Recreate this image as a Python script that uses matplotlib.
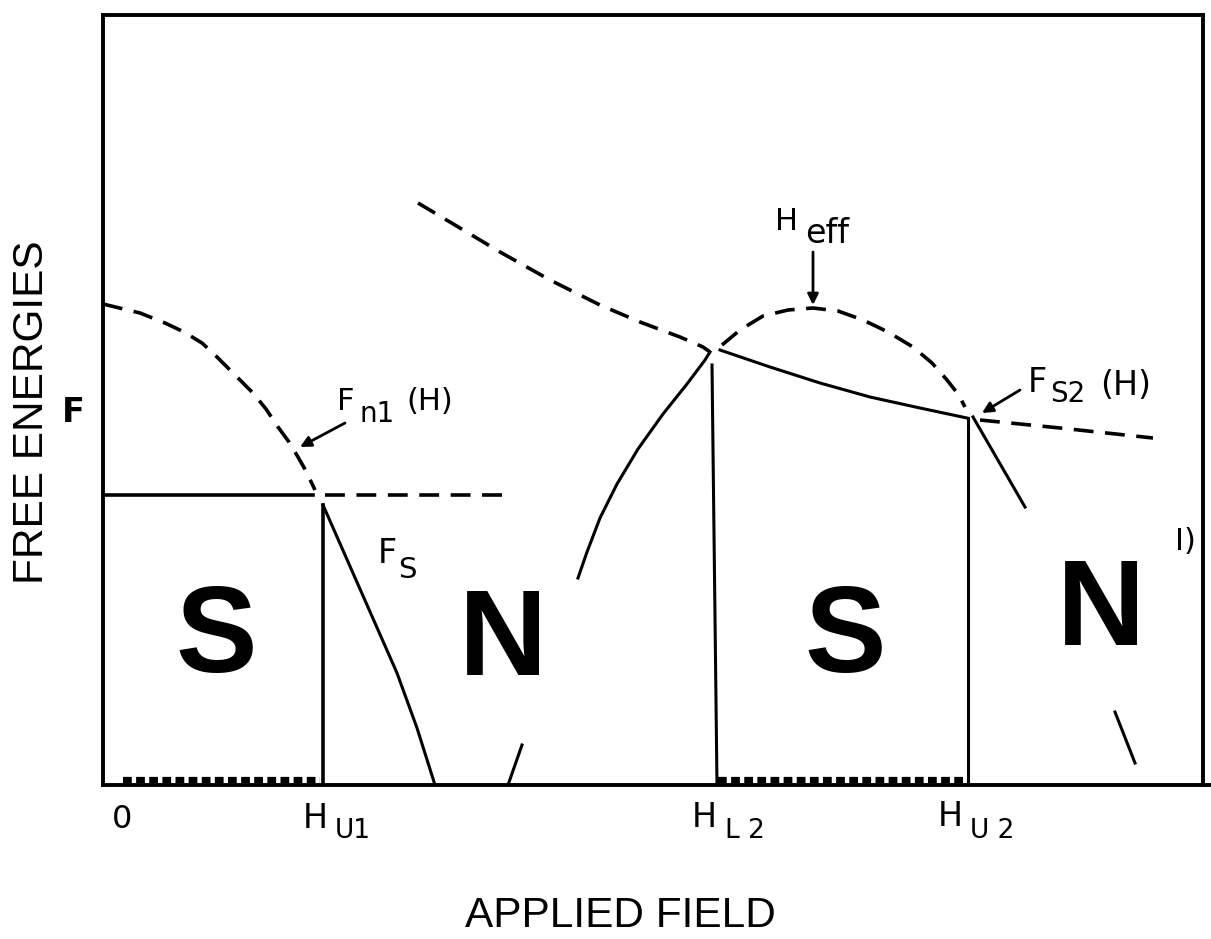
import matplotlib.pyplot as plt

# field H and free energy F, arbitrary units (0 at the origin of the sketch)
fn1_h = [-0.17, 0.20, 0.45, 0.64, 0.82, 0.95, 1.08, 1.20, 1.33, 1.46, 1.58, 1.69, 1.78, 1.86, 1.95]
fn1_f = [4.81, 4.72, 4.62, 4.53, 4.42, 4.30, 4.17, 4.05, 3.92, 3.76, 3.58, 3.43, 3.28, 3.14, 2.95]

s1_top_h = [-0.17, 1.93]
s1_top_f = [2.90, 2.90]
n1_dash_h = [2.05, 3.85]
n1_dash_f = [2.90, 2.90]

hu1 = 2.03
hu1_top = 2.80
fs_h = [2.03, 2.77, 2.97, 3.15]
fs_f = [2.80, 1.12, 0.57, 0.0]
stub1_h = [3.88, 4.02]
stub1_f = [0.0, 0.40]

fn2_dash_h = [2.98, 3.40, 3.80, 4.30, 4.80, 5.20, 5.60, 5.83, 5.90]
fn2_dash_f = [5.82, 5.57, 5.33, 5.05, 4.80, 4.63, 4.48, 4.38, 4.33]
fn2_solid_h = [4.58, 4.67, 4.80, 4.97, 5.18, 5.43, 5.67, 5.85, 5.90]
fn2_solid_f = [2.07, 2.33, 2.67, 3.01, 3.36, 3.71, 4.01, 4.25, 4.33]

hl2_h = [5.92, 5.97]
hl2_f = [4.20, 0.0]

heff_h = [6.02, 6.20, 6.43, 6.68, 6.93, 7.18, 7.43, 7.68, 7.93, 8.12, 8.27, 8.38, 8.45]
heff_f = [4.40, 4.55, 4.69, 4.75, 4.77, 4.74, 4.65, 4.53, 4.38, 4.22, 4.05, 3.91, 3.78]

fs2_h = [6.00, 6.50, 7.00, 7.50, 8.00, 8.47]
fs2_f = [4.35, 4.18, 4.02, 3.88, 3.77, 3.67]

hu2 = 8.48
hu2_top = 3.67
right_dash_h = [8.60, 9.40, 10.33]
right_dash_f = [3.65, 3.57, 3.47]
right_solid_h = [8.53, 9.05]
right_solid_f = [3.68, 2.78]
stub2_h = [9.95, 10.15]
stub2_f = [0.73, 0.22]

hatch1_h = [0.03, 2.0]
hatch2_h = [5.98, 8.48]

phase_labels = ['S', 'N', 'S', 'N']
phase_h = [0.96, 3.83, 7.25, 9.81]
phase_f = [1.13, 1.10, 1.13, 1.40]

fig = plt.figure(figsize=(12.11, 9.39), dpi=100)
ax = fig.add_axes([103 / 1211, 154 / 939, 1100 / 1211, 770 / 939])
ax.set_xlim(-0.17, 10.83)
ax.set_ylim(0, 7.70)
ax.set_xticks([])
ax.set_yticks([])
for sp in ax.spines.values():
    sp.set_linewidth(2.8)
    sp.set_color('black')

k = 'black'
dash = dict(color=k, lw=2.6, linestyle=(0, (5.5, 3.2)), solid_joinstyle='round')
solid = dict(color=k, lw=2.2, solid_joinstyle='round')

# dashed curves
ax.plot(fn1_h, fn1_f, **dash)
ax.plot(n1_dash_h, n1_dash_f, **dash)
ax.plot(fn2_dash_h, fn2_dash_f, **dash)
ax.plot(heff_h, heff_f, **dash)
ax.plot(right_dash_h, right_dash_f, **dash)

# solid curves
ax.plot(s1_top_h, s1_top_f, color=k, lw=2.6)
ax.plot([hu1, hu1], [0, hu1_top], color=k, lw=2.6)
ax.plot(fs_h, fs_f, **solid)
ax.plot(stub1_h, stub1_f, **solid)
ax.plot(fn2_solid_h, fn2_solid_f, **solid)
ax.plot(hl2_h, hl2_f, **solid)
ax.plot(fs2_h, fs2_f, **solid)
ax.plot([hu2, hu2], [0, hu2_top], **solid)
ax.plot(right_solid_h, right_solid_f, **solid)
ax.plot(stub2_h, stub2_f, **solid)

# bottom line runs past the frame, hatched bands on the S intervals
ax.plot([10.83, 10.95], [0, 0], color=k, lw=2.8, clip_on=False)
for hh in [hatch1_h, hatch2_h]:
    ax.plot(hh, [0.05, 0.05], color=k, lw=4.5, linestyle=(0, (1.4, 0.7)), clip_on=False)

# S / N regions
for lab, x, y in zip(phase_labels, phase_h, phase_f):
    ax.text(x, y, lab, fontsize=88, fontweight='bold', family='Liberation Sans',
            ha='center', va='baseline')

fnt = 'DejaVu Sans'
def put(x, y, s, size):
    ax.text(x, y, s, fontsize=size, family=fnt, ha='left', va='baseline', clip_on=False)

# axis tick-like labels
ax.text(0.02, -0.43, '0', fontsize=23, family=fnt, ha='center', va='baseline')
put(1.83, -0.43, 'H', 24)
put(2.15, -0.53, 'U1', 19)
put(5.72, -0.42, 'H', 24)
put(6.05, -0.53, 'L 2', 19)
put(8.18, -0.41, 'H', 24)
put(8.50, -0.53, 'U 2', 19)

# curve labels
put(2.17, 3.75, 'F', 22)
put(2.40, 3.63, 'n1', 20)
put(2.86, 3.75, '(H)', 22)
put(2.58, 2.22, 'F', 24)
put(2.78, 2.07, 'S', 21)
put(6.55, 5.55, 'H', 22)
put(6.85, 5.42, 'eff', 24)
put(9.08, 3.93, 'F', 24)
put(9.30, 3.83, 'S2', 20)
put(9.80, 3.90, '(H)', 24)
put(10.55, 2.35, 'I)', 22)

arr = dict(arrowstyle='-|>', color=k, lw=2, mutation_scale=16, shrinkA=0, shrinkB=0)
ax.annotate('', xy=(1.80, 3.38), xytext=(2.25, 3.62), arrowprops=arr)
ax.annotate('', xy=(6.93, 4.80), xytext=(6.93, 5.33), arrowprops=arr)
ax.annotate('', xy=(8.62, 3.72), xytext=(9.00, 3.95), arrowprops=arr)

# axis titles
ax.text(5.00, -1.42, 'APPLIED FIELD', fontsize=30.5, family='Liberation Sans',
        ha='center', va='baseline', clip_on=False)
ax.text(-0.88, 3.73, 'FREE ENERGIES', fontsize=30.5, family='Liberation Sans',
        rotation=90, ha='center', va='center', clip_on=False)
ax.text(-0.47, 3.73, 'F', fontsize=24, family=fnt, fontweight='bold',
        ha='center', va='center', clip_on=False)

fig.savefig('out.png', dpi=100)
